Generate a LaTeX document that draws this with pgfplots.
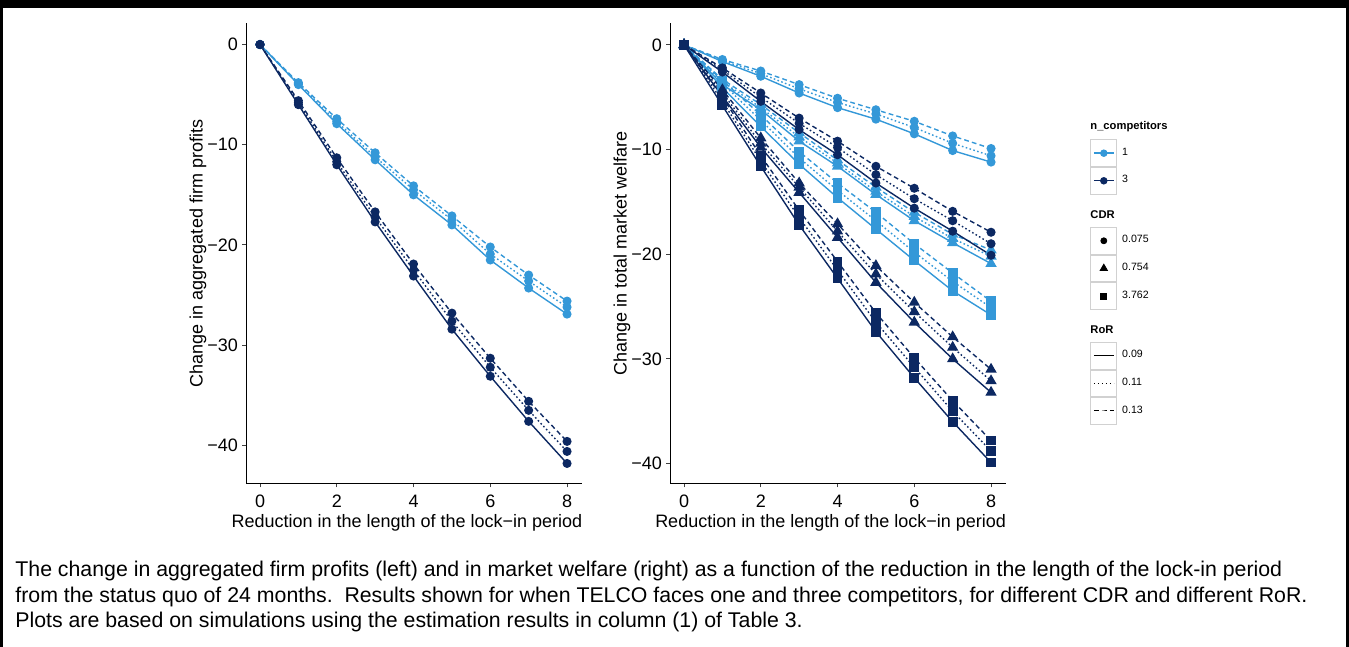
\documentclass[border=0pt]{standalone}
\usepackage{fontspec}
\setmainfont{Liberation Sans}
\usepackage{pgfplots}
\usepackage{pgfplotstable}
\pgfplotsset{compat=1.18}
\definecolor{lb}{RGB}{52,152,216}
\definecolor{db}{RGB}{12,40,98}
\newcommand\axf{\fontsize{9}{10}\selectfont}
\newcommand\legf{\fontsize{5.3}{6}\selectfont}
\newcommand\capf{\fontsize{10.65}{12}\selectfont}

% x = reduction in lock-in length; s/o/d = RoR 0.09/0.11/0.13; 1/3 = competitors
\pgfplotstableread{
x  s1    o1    d1    s3    o3    d3
0  0     0     0     0     0     0
1  -4.0  -3.9  -3.8  -6.0  -5.8  -5.6
2  -7.9  -7.7  -7.4  -12.0 -11.7 -11.3
3  -11.5 -11.2 -10.8 -17.7 -17.2 -16.7
4  -15.0 -14.5 -14.1 -23.1 -22.5 -21.9
5  -18.0 -17.5 -17.1 -28.4 -27.6 -26.8
6  -21.5 -20.9 -20.2 -33.1 -32.2 -31.3
7  -24.3 -23.6 -23.0 -37.6 -36.5 -35.6
8  -26.9 -26.2 -25.6 -41.8 -40.6 -39.6
}\profits

% c/t/q = CDR 0.075/0.754/3.762
\pgfplotstableread{
x c1s c1o c1d t1s t1o t1d q1s q1o q1d c3s c3o c3d t3s t3o t3d q3s q3o q3d
0 0 0 0 0 0 0 0 0 0 0 0 0 0 0 0 0 0 0
1 -1.6 -1.5 -1.4 -3.8 -3.5 -3.3 -4.1 -3.7 -3.4 -2.6 -2.4 -2.2 -4.9 -4.6 -4.3 -5.8 -5.4 -5.0
2 -3.0 -2.75 -2.5 -6.2 -6.0 -5.7 -7.8 -7.2 -6.7 -5.4 -5.0 -4.6 -9.8 -9.4 -8.9 -11.6 -11.1 -10.6
3 -4.6 -4.2 -3.8 -9.2 -8.8 -8.4 -11.4 -10.8 -10.2 -8.1 -7.5 -7.0 -14.1 -13.6 -13.2 -17.2 -16.5 -15.8
4 -6.0 -5.5 -5.1 -11.6 -11.3 -11.0 -14.6 -13.9 -13.2 -10.5 -9.8 -9.2 -18.4 -17.8 -17.1 -22.3 -21.5 -20.7
5 -7.1 -6.6 -6.2 -14.3 -14.0 -13.6 -17.6 -16.8 -16.0 -13.2 -12.4 -11.6 -22.7 -21.9 -21.1 -27.4 -26.5 -25.6
6 -8.5 -7.9 -7.3 -16.8 -16.4 -16.0 -20.6 -19.8 -19.0 -15.6 -14.7 -13.7 -26.5 -25.5 -24.6 -31.8 -30.8 -29.9
7 -10.1 -9.4 -8.7 -18.9 -18.5 -18.1 -23.5 -22.6 -21.8 -17.8 -16.8 -15.9 -30.0 -28.9 -27.9 -36.0 -35.0 -34.0
8 -11.2 -10.6 -9.9 -20.9 -20.2 -19.6 -25.8 -25.1 -24.5 -20.1 -19.0 -17.9 -33.2 -32.1 -31.0 -39.9 -38.8 -37.8
}\welfare

\pgfplotsset{
  gg/.style={
    scale only axis, width=168pt, height=230pt,
    axis x line*=bottom, axis y line*=left,
    axis line style={-, line width=0.5pt, black},
    xmin=-0.365, xmax=8.39,
    xtick={0,2,4,6,8},
    ytick={-40,-30,-20,-10,0},
    yticklabels={−40,−30,−20,−10,0},
    tick align=outside, major tick length=2pt,
    every tick/.style={black!75, line width=0.5pt},
    tick label style={font=\axf, text=black},
    xticklabel style={inner sep=1.6pt, yshift=-1.8pt},
    yticklabel style={inner sep=1.8pt},
    label style={font=\axf},
    /pgf/number format/assume math mode=true,
    clip=false,
  },
  n1/.style={color=lb, line width=0.7pt},
  n3/.style={color=db, line width=0.7pt},
  rs/.style={solid},
  ro/.style={dash pattern=on 0.8pt off 1.2pt},
  rd/.style={dash pattern=on 2.4pt off 1.6pt},
  cm/.style={mark=*, mark size=1.9pt, mark options={solid}},
  tm/.style={mark=triangle*, mark size=2.6pt, mark options={solid}},
  qm/.style={mark=square*, mark size=2.1pt, mark options={solid}},
  legkey/.style={
    legend image code/.code={
      \draw[black!18, line width=0.4pt, solid, fill=white] (0pt,-6.7pt) rectangle (13pt,6.7pt);
      \draw[mark repeat=2, mark phase=2, ##1] plot coordinates {(1.5pt,0pt) (6.5pt,0pt) (11.5pt,0pt)};
    },
  },
  legax/.style={
    hide axis, scale only axis, width=4pt, height=4pt,
    xmin=0, xmax=1, ymin=0, ymax=1, anchor=north west, legkey,
    legend cell align=left,
    legend style={at={(0,1)}, anchor=north west, draw=none, fill=none,
      inner sep=0pt, row sep=0pt, column sep=2.5pt,
      nodes={inner sep=0pt, font=\legf}},
  },
}

\begin{document}
\begin{tikzpicture}
\useasboundingbox (0pt,0pt) rectangle (674.5pt,323.5pt);
\fill[black] (0pt,319.5pt) rectangle (674.5pt,323.5pt);
\fill[black] (0pt,0pt) rectangle (1.5pt,323.5pt);
\fill[black] (673pt,0pt) rectangle (674.5pt,323.5pt);

% left panel: firm profits
\begin{axis}[gg, at={(123pt,81.75pt)}, anchor=south west,
  ymin=-43.8, ymax=2.1,
  xlabel={Reduction in the length of the lock−in period},
  ylabel={Change in aggregated firm profits},
  xlabel style={at={(axis description cs:0.479,-0.086)}, anchor=center},
  ylabel style={at={(axis description cs:-0.143,0.5)}, anchor=center},
]
\addplot[n1, rs, cm] table[x=x, y=s1] {\profits};
\addplot[n1, ro, cm] table[x=x, y=o1] {\profits};
\addplot[n1, rd, cm] table[x=x, y=d1] {\profits};
\addplot[n3, rs, cm] table[x=x, y=s3] {\profits};
\addplot[n3, ro, cm] table[x=x, y=o3] {\profits};
\addplot[n3, rd, cm] table[x=x, y=d3] {\profits};
\end{axis}

% right panel: total market welfare
\begin{axis}[gg, at={(335pt,81.75pt)}, anchor=south west,
  ymin=-41.9, ymax=2.04,
  xlabel={Reduction in the length of the lock−in period},
  ylabel={Change in total market welfare},
  xlabel style={at={(axis description cs:0.478,-0.086)}, anchor=center},
  ylabel style={at={(axis description cs:-0.143,0.5)}, anchor=center},
]
\addplot[n1, rs, cm] table[x=x, y=c1s] {\welfare};
\addplot[n1, ro, cm] table[x=x, y=c1o] {\welfare};
\addplot[n1, rd, cm] table[x=x, y=c1d] {\welfare};
\addplot[n1, rs, tm] table[x=x, y=t1s] {\welfare};
\addplot[n1, ro, tm] table[x=x, y=t1o] {\welfare};
\addplot[n1, rd, tm] table[x=x, y=t1d] {\welfare};
\addplot[n1, rs, qm] table[x=x, y=q1s] {\welfare};
\addplot[n1, ro, qm] table[x=x, y=q1o] {\welfare};
\addplot[n1, rd, qm] table[x=x, y=q1d] {\welfare};
\addplot[n3, rs, cm] table[x=x, y=c3s] {\welfare};
\addplot[n3, ro, cm] table[x=x, y=c3o] {\welfare};
\addplot[n3, rd, cm] table[x=x, y=c3d] {\welfare};
\addplot[n3, rs, tm] table[x=x, y=t3s] {\welfare};
\addplot[n3, ro, tm] table[x=x, y=t3o] {\welfare};
\addplot[n3, rd, tm] table[x=x, y=t3d] {\welfare};
\addplot[n3, rs, qm] table[x=x, y=q3s] {\welfare};
\addplot[n3, ro, qm] table[x=x, y=q3o] {\welfare};
\addplot[n3, rd, qm] table[x=x, y=q3d] {\welfare};
\end{axis}

% legends
\node[anchor=west, inner sep=0pt, font=\bfseries\fontsize{5.6}{6}\selectfont] at (545pt,260pt) {n\_competitors};
\begin{axis}[legax, at={(545pt,254pt)}]
\addlegendimage{n1, solid, mark=*, mark size=1.5pt, mark options={solid}}
\addlegendentry{1}
\addlegendimage{n3, solid, mark=*, mark size=1.5pt, mark options={solid}}
\addlegendentry{3}
\end{axis}

\node[anchor=west, inner sep=0pt, font=\bfseries\fontsize{5.6}{6}\selectfont] at (545pt,216pt) {CDR};
\begin{axis}[legax, at={(545pt,210.2pt)}]
\addlegendimage{only marks, black, mark=*, mark size=1.5pt}
\addlegendentry{0.075}
\addlegendimage{only marks, black, mark=triangle*, mark size=2.1pt}
\addlegendentry{0.754}
\addlegendimage{only marks, black, mark=square*, mark size=1.5pt}
\addlegendentry{3.762}
\end{axis}

\node[anchor=west, inner sep=0pt, font=\bfseries\fontsize{5.6}{6}\selectfont] at (545pt,158.5pt) {RoR};
\begin{axis}[legax, at={(545pt,152.7pt)}]
\addlegendimage{black, line width=0.5pt, solid}
\addlegendentry{0.09}
\addlegendimage{black, line width=0.5pt, ro}
\addlegendentry{0.11}
\addlegendimage{black, line width=0.5pt, rd}
\addlegendentry{0.13}
\end{axis}

% caption
\node[anchor=base west, inner sep=0pt, font=\capf] at (7.5pt,35.2pt)
  {The change in aggregated firm profits (left) and in market welfare (right) as a function of the reduction in the length of the lock-in period};
\node[anchor=base west, inner sep=0pt, font=\capf] at (7.5pt,22.4pt)
  {from the status quo of 24 months.\ \ Results shown for when TELCO faces one and three competitors, for different CDR and different RoR.};
\node[anchor=base west, inner sep=0pt, font=\capf] at (7.5pt,9.6pt)
  {Plots are based on simulations using the estimation results in column (1) of Table 3.};
\end{tikzpicture}
\end{document}
